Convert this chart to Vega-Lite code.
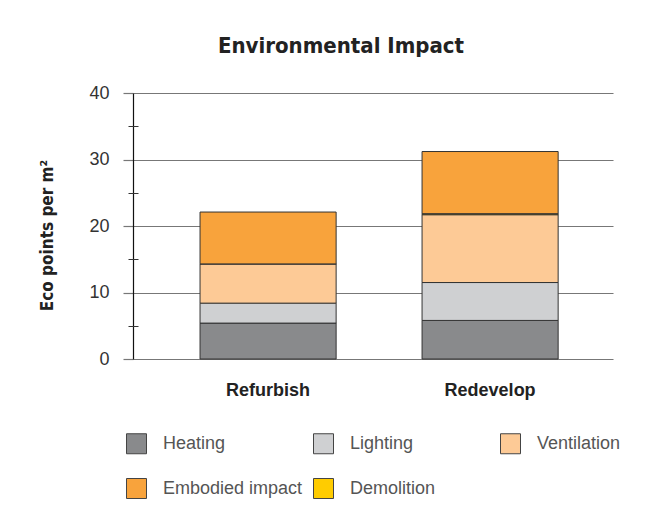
{
  "$schema": "https://vega.github.io/schema/vega-lite/v6.json",
  "autosize": "none",
  "width": 480,
  "height": 266,
  "padding": {"left": 133, "top": 93, "right": 44, "bottom": 154},
  "background": "white",
  "title": {
    "text": "Environmental Impact",
    "font": "DejaVu Sans Condensed, Liberation Sans Narrow, sans-serif",
    "fontWeight": "bold",
    "fontSize": 22,
    "color": "#222222",
    "anchor": "middle",
    "dx": -32,
    "offset": 26
  },
  "data": {
    "values": [
      {"option": "Refurbish", "category": "Heating", "value": 5.4},
      {"option": "Refurbish", "category": "Lighting", "value": 3.0},
      {"option": "Refurbish", "category": "Ventilation", "value": 5.9},
      {"option": "Refurbish", "category": "Demolition", "value": 0},
      {"option": "Refurbish", "category": "Embodied impact", "value": 7.8},
      {"option": "Redevelop", "category": "Heating", "value": 5.8},
      {"option": "Redevelop", "category": "Lighting", "value": 5.7},
      {"option": "Redevelop", "category": "Ventilation", "value": 10.2},
      {"option": "Redevelop", "category": "Demolition", "value": 0.15},
      {"option": "Redevelop", "category": "Embodied impact", "value": 9.35}
    ]
  },
  "transform": [
    {"calculate": "indexof(['Heating','Lighting','Ventilation','Demolition','Embodied impact'], datum.category)", "as": "stackOrder"}
  ],
  "layer": [
    {
      "mark": {"type": "bar", "stroke": "#333333", "strokeWidth": 1},
      "encoding": {
        "x": {
          "field": "option",
          "type": "nominal",
          "sort": ["Refurbish", "Redevelop"],
          "scale": {"paddingInner": 0.387, "paddingOuter": 0.2745, "align": 0.55},
          "axis": {
            "title": null,
            "labelAngle": 0,
            "domain": false,
            "ticks": false,
            "labelPadding": 22,
            "labelFont": "Liberation Sans",
            "labelFontWeight": "bold",
            "labelFontSize": 18,
            "labelColor": "#222222"
          }
        },
        "y": {
          "field": "value",
          "type": "quantitative",
          "stack": "zero",
          "scale": {"domain": [0, 40], "nice": false},
          "axis": {
            "title": "Eco points per m²",
            "titleFont": "DejaVu Sans Condensed, Liberation Sans, sans-serif",
            "titleFontWeight": "bold",
            "titleFontSize": 17,
            "titleColor": "#222222",
            "titleAngle": -90,
            "titleX": -86,
            "titleY": 142,
            "titleBaseline": "middle",
            "titleAlign": "center",
            "values": [0, 10, 20, 30, 40],
            "grid": true,
            "gridColor": "#777777",
            "gridWidth": 1.2,
            "tickSize": 10,
            "tickColor": "#777777",
            "tickWidth": 1.2,
            "domainColor": "#111111",
            "domainWidth": 1.2,
            "labelPadding": 14,
            "labelFont": "Liberation Sans",
            "labelFontSize": 18,
            "labelColor": "#333333"
          }
        },
        "color": {
          "field": "category",
          "type": "nominal",
          "scale": {
            "domain": ["Heating", "Lighting", "Ventilation", "Embodied impact", "Demolition"],
            "range": ["#898a8c", "#cfd0d2", "#fdca96", "#f8a33c", "#ffcc00"]
          },
          "legend": {
            "title": null,
            "orient": "none",
            "legendX": -7,
            "legendY": 340,
            "direction": "horizontal",
            "columns": 3,
            "gridAlign": "all",
            "columnPadding": 8,
            "rowPadding": 20,
            "symbolType": "square",
            "symbolSize": 400,
            "symbolStrokeColor": "#444444",
            "symbolStrokeWidth": 1,
            "symbolOpacity": 1,
            "labelFont": "Liberation Sans",
            "labelFontSize": 18,
            "labelColor": "#555555",
            "labelOffset": 16,
            "labelLimit": 300
          }
        },
        "order": {"field": "stackOrder", "type": "quantitative", "sort": "ascending"}
      }
    },
    {
      "mark": {"type": "rule", "opacity": 0},
      "encoding": {
        "y": {
          "datum": 0,
          "type": "quantitative",
          "axis": {
            "orient": "left",
            "values": [5, 15, 25, 35],
            "offset": -5,
            "tickSize": 10,
            "tickColor": "#333333",
            "tickWidth": 1,
            "labels": false,
            "domain": false,
            "grid": false,
            "title": null
          }
        }
      }
    }
  ],
  "resolve": {"axis": {"y": "independent"}},
  "config": {"view": {"stroke": null}}
}
